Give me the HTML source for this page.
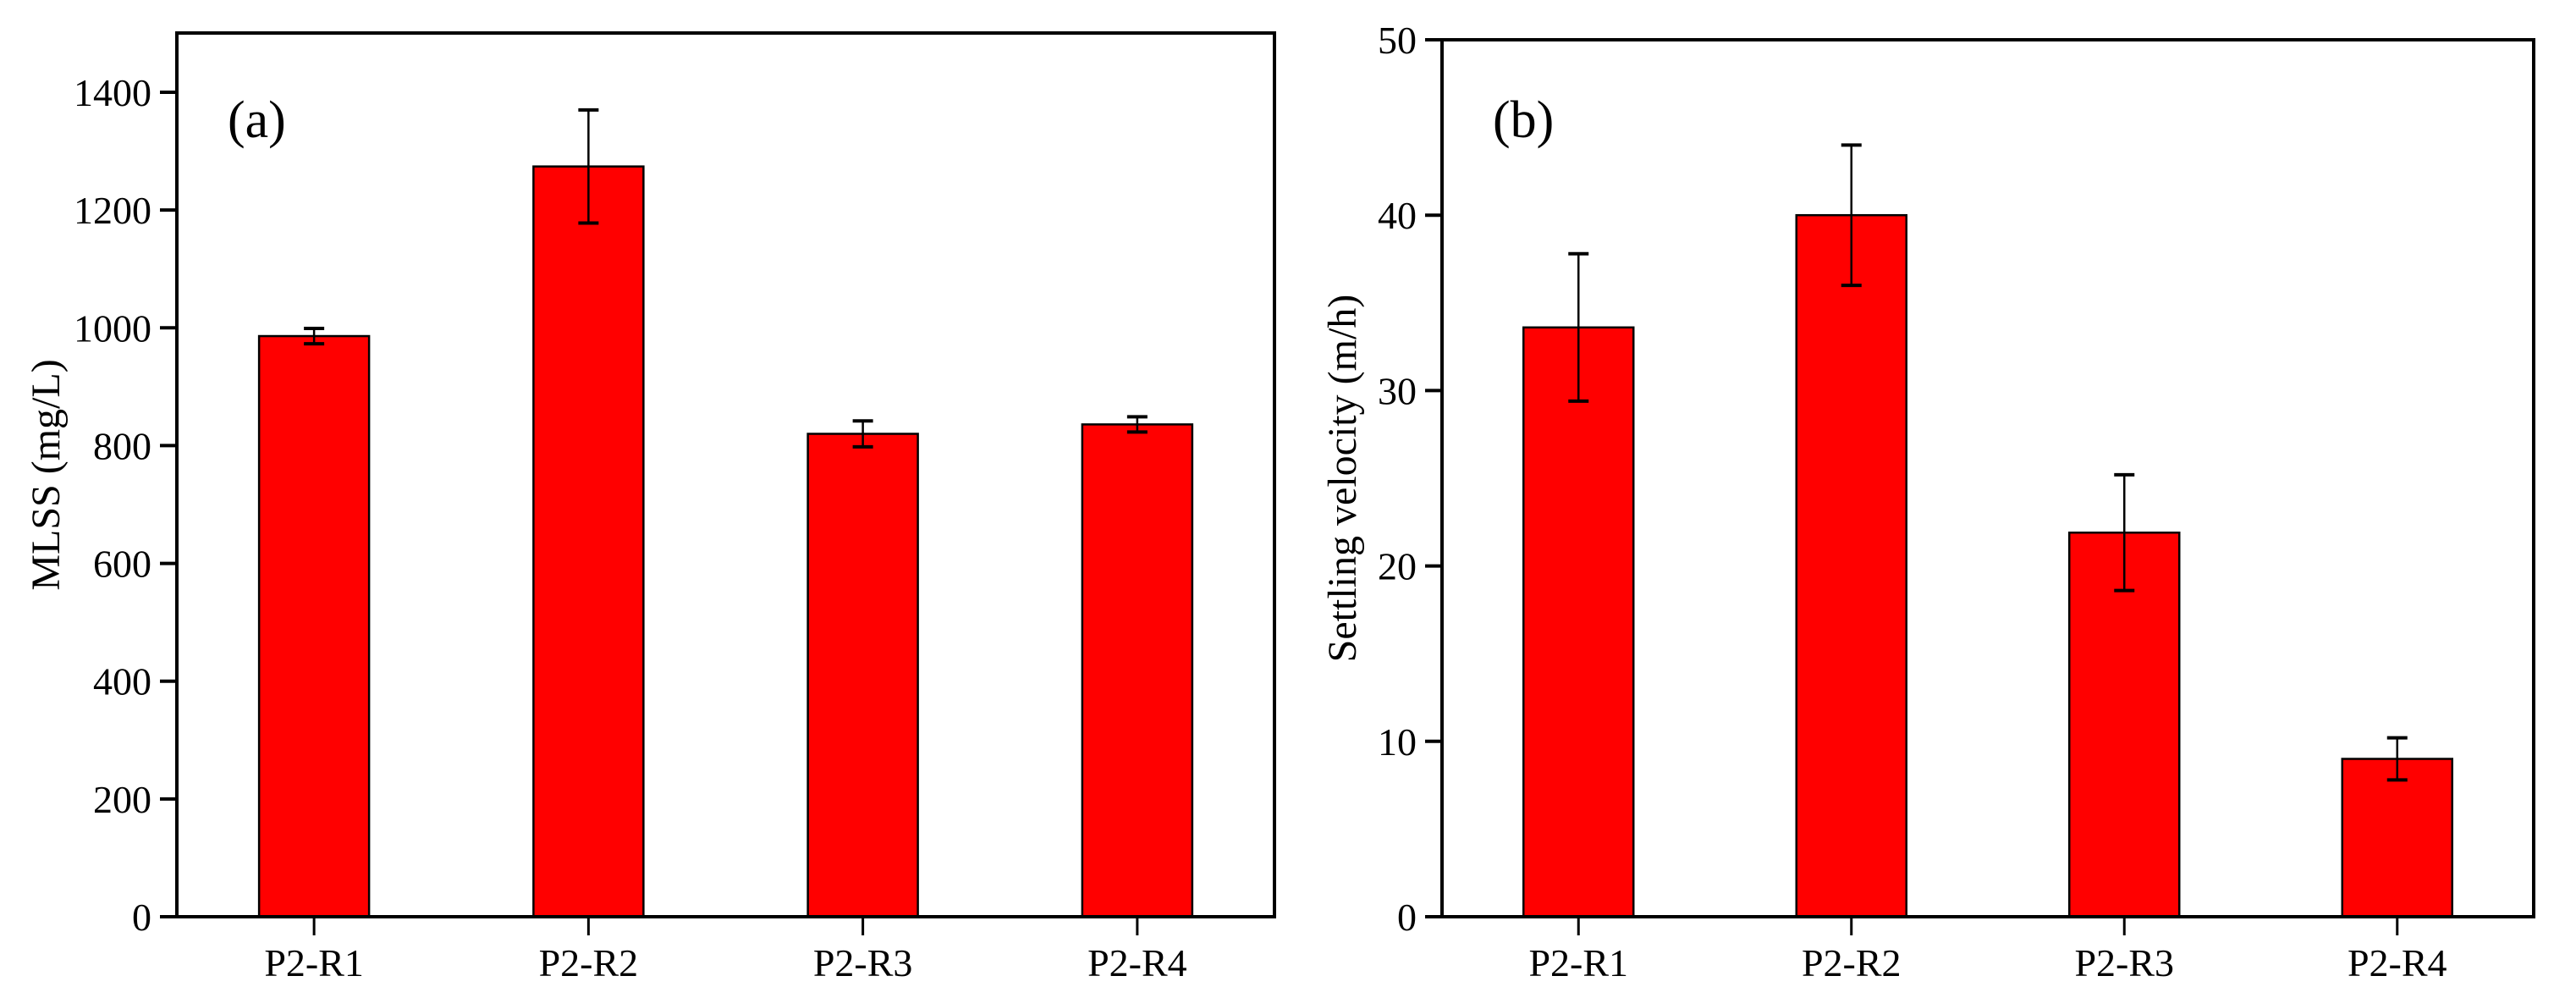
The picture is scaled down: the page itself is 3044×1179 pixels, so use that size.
<!DOCTYPE html>
<html><head><meta charset="utf-8"><style>
html,body{margin:0;padding:0;background:#fff;}
svg{display:block;font-family:"Liberation Serif",serif;}
</style></head><body>
<svg id="fig" width="3044" height="1179" viewBox="0 0 3044 1179" xmlns="http://www.w3.org/2000/svg"></svg>
<script>
const categories = ["P2-R1","P2-R2","P2-R3","P2-R4"];
const mlssValues = [986, 1274, 820, 836];
const mlssErrors = [13, 96, 22, 13];
const mlssTicks = [0,200,400,600,800,1000,1200,1400];
const velValues = [33.6, 40.0, 21.9, 9.0];
const velErrors = [4.2, 4.0, 3.3, 1.2];
const velTicks = [0,10,20,30,40,50];

const NS = "http://www.w3.org/2000/svg";
const svg = document.getElementById('fig');
function mk(tag, attrs, parent){
  const e = document.createElementNS(NS, tag);
  for (const k in attrs) e.setAttribute(k, attrs[k]);
  (parent||svg).appendChild(e);
  return e;
}
function panel(cfg){
  const g = mk('g', {});
  
  
  const y = v => cfg.y0 - (v - 0) / cfg.ymax * (cfg.y0 - cfg.yTopVal);
  const step = (cfg.right - cfg.left) / categories.length;
  const x = i => cfg.left + step * (i + 0.5);
  const bw = 130;
  cfg.values.forEach((v, i) => {
    const r = mk('rect', {x: x(i) - bw/2, y: y(v), width: bw, height: cfg.y0 - y(v), fill: '#ff0000', stroke: '#000', 'stroke-width': 2.5}, g);
    
    
    const e = cfg.errors[i];
    const eg = mk('g', {stroke: '#000', 'stroke-width': 2.5}, g);
    
    
    mk('line', {x1: x(i), x2: x(i), y1: y(v + e), y2: y(v - e)}, eg);
    mk('line', {x1: x(i) - 12, x2: x(i) + 12, y1: y(v + e), y2: y(v + e), 'stroke-width': 4}, eg);
    mk('line', {x1: x(i) - 12, x2: x(i) + 12, y1: y(v - e), y2: y(v - e), 'stroke-width': 4}, eg);
  });
  const f = mk('rect', {x: cfg.left, y: cfg.top, width: cfg.right - cfg.left, height: cfg.y0 - cfg.top, fill: 'none', stroke: '#000', 'stroke-width': 4}, g);
  
  
  cfg.ticks.forEach(t => {
    mk('line', {x1: cfg.left - 20, x2: cfg.left, y1: y(t), y2: y(t), stroke: '#000', 'stroke-width': 4}, g);
    const tx = mk('text', {x: cfg.left - 30, y: y(t) + 16, 'font-size': 46, 'text-anchor': 'end'}, g);
    tx.textContent = t;
    
    
  });
  categories.forEach((c, i) => {
    mk('line', {x1: x(i), x2: x(i), y1: cfg.y0, y2: cfg.y0 + 22, stroke: '#000', 'stroke-width': 3}, g);
    const tx = mk('text', {x: x(i), y: 1153, 'font-size': 46, 'text-anchor': 'middle'}, g);
    tx.textContent = c;
    
    
  });
  const cy = (cfg.top + cfg.y0)/2;
  const yt = mk('text', {x: cfg.titleX, y: cy, 'font-size': 48, 'text-anchor': 'middle', transform: `rotate(-90 ${cfg.titleX} ${cy})`}, g);
  yt.textContent = cfg.title;
  
  
  const pl = mk('text', {x: cfg.left + 60, y: 162, 'font-size': 62}, g);
  pl.textContent = cfg.label;
  
  
}
panel({name: 'panel-a-mlss', left: 209, right: 1506, top: 39, y0: 1083, ymax: 1400, yTopVal: 109,
  values: mlssValues, errors: mlssErrors, ticks: mlssTicks, title: 'MLSS (mg/L)', titleX: 70, label: '(a)'});
panel({name: 'panel-b-settling-velocity', left: 1704, right: 2994, top: 47, y0: 1083, ymax: 50, yTopVal: 47,
  values: velValues, errors: velErrors, ticks: velTicks, title: 'Settling velocity (m/h)', titleX: 1602, label: '(b)'});
</script>
</body></html>
